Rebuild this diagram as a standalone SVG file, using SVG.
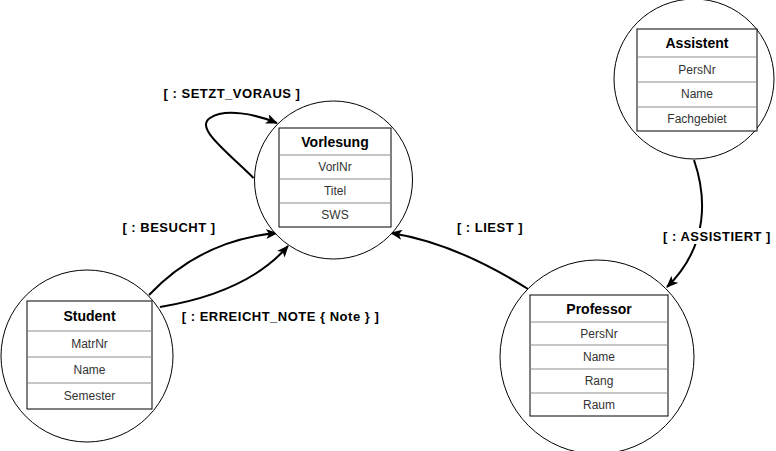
<svg xmlns="http://www.w3.org/2000/svg" width="776" height="451" viewBox="0 0 776 451">
<style>
.circ{fill:#fff;stroke:#000;stroke-width:1}
.tbl{fill:#fff;stroke:#000;stroke-width:1}
.div{stroke:#8c8c8c;stroke-width:1}
.hdr{font-family:"Liberation Sans",Arial,sans-serif;font-size:14px;font-weight:bold;fill:#000;text-anchor:middle;dominant-baseline:central}
.att{font-family:"Liberation Sans",Arial,sans-serif;font-size:12px;fill:#333;text-anchor:middle;dominant-baseline:central}
.lbl{font-family:"Liberation Sans",Arial,sans-serif;font-size:13px;font-weight:bold;letter-spacing:0.5px;fill:#000;text-anchor:middle;dominant-baseline:central}
.edge{fill:none;stroke:#000;stroke-width:2;marker-end:url(#arr)}
</style>
<defs>
<marker id="arr" viewBox="0 0 12 10" markerWidth="12" markerHeight="10" refX="11" refY="5" orient="auto" markerUnits="userSpaceOnUse">
<path d="M0,0 L12,5 L0,10 L3,5 z" fill="#000"/>
</marker>
</defs>
<rect width="776" height="451" fill="#fff"/>

<g id="edges">
<path class="edge" d="M253.5,178 C225,150 195,128 210,118 C225,108 255,114 277,123"/>
<path class="edge" d="M149,295 Q201,240 277,233"/>
<path class="edge" d="M160,307 C220,297 262,276 288,246"/>
<path class="edge" d="M528,289 Q455,243 391,233"/>
<path class="edge" d="M694,160 C706,195 710,245 667,287"/>
<text class="lbl" x="232" y="93">[ : SETZT_VORAUS ]</text>
<text class="lbl" x="169" y="227">[ : BESUCHT ]</text>
<text class="lbl" x="280.5" y="316">[ : ERREICHT_NOTE { Note } ]</text>
<text class="lbl" x="490" y="227">[ : LIEST ]</text>
<rect x="662" y="228" width="110" height="16" fill="#fff"/>
<text class="lbl" x="717" y="236">[ : ASSISTIERT ]</text>
</g>

<g id="vorlesung">
<circle class="circ" cx="333.5" cy="180" r="79"/>
<rect class="tbl" x="279" y="128" width="112" height="99"/>
<line class="div" x1="279" y1="155" x2="391" y2="155"/>
<line class="div" x1="279" y1="179" x2="391" y2="179"/>
<line class="div" x1="279" y1="203" x2="391" y2="203"/>
<text class="hdr" x="335" y="141.5">Vorlesung</text>
<text class="att" x="335" y="167">VorlNr</text>
<text class="att" x="335" y="191">Titel</text>
<text class="att" x="335" y="215">SWS</text>
</g>

<g id="student">
<circle class="circ" cx="87" cy="356" r="86"/>
<rect class="tbl" x="27" y="301" width="125" height="108"/>
<line class="div" x1="27" y1="331" x2="152" y2="331"/>
<line class="div" x1="27" y1="357" x2="152" y2="357"/>
<line class="div" x1="27" y1="383" x2="152" y2="383"/>
<text class="hdr" x="89.5" y="316">Student</text>
<text class="att" x="89.5" y="344">MatrNr</text>
<text class="att" x="89.5" y="370">Name</text>
<text class="att" x="89.5" y="396">Semester</text>
</g>

<g id="professor">
<circle class="circ" cx="597" cy="357" r="97"/>
<rect class="tbl" x="530" y="295" width="138" height="121"/>
<line class="div" x1="530" y1="322" x2="668" y2="322"/>
<line class="div" x1="530" y1="345" x2="668" y2="345"/>
<line class="div" x1="530" y1="369" x2="668" y2="369"/>
<line class="div" x1="530" y1="393" x2="668" y2="393"/>
<text class="hdr" x="599" y="308.5">Professor</text>
<text class="att" x="599" y="334">PersNr</text>
<text class="att" x="599" y="357">Name</text>
<text class="att" x="599" y="381">Rang</text>
<text class="att" x="599" y="404.5">Raum</text>
</g>

<g id="assistent">
<circle class="circ" cx="694" cy="79" r="80"/>
<rect class="tbl" x="637" y="29" width="120" height="102"/>
<line class="div" x1="637" y1="57" x2="757" y2="57"/>
<line class="div" x1="637" y1="82" x2="757" y2="82"/>
<line class="div" x1="637" y1="107" x2="757" y2="107"/>
<text class="hdr" x="697" y="43">Assistent</text>
<text class="att" x="697" y="69.5">PersNr</text>
<text class="att" x="697" y="94">Name</text>
<text class="att" x="697" y="119">Fachgebiet</text>
</g>
</svg>
